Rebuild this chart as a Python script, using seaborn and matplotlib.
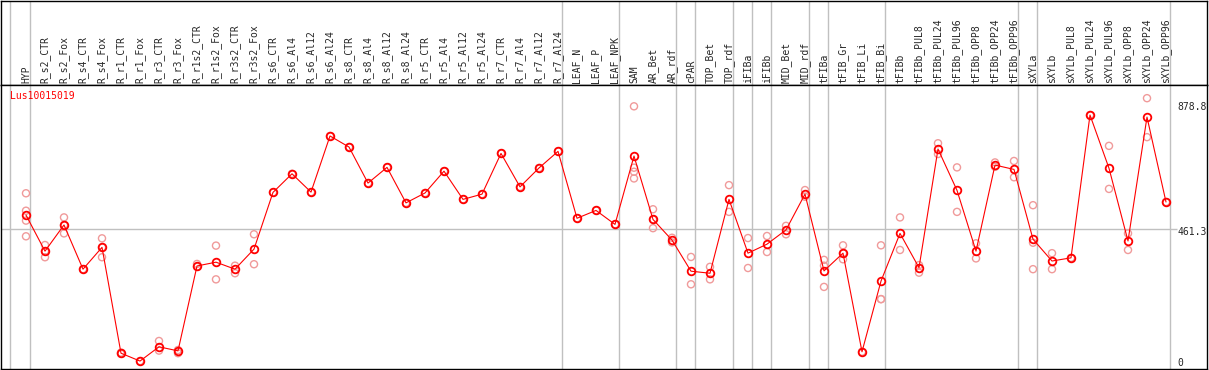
import pandas as pd
import matplotlib.pyplot as plt
import seaborn as sns

# ---------------------------------------------------------
# data
# ---------------------------------------------------------
samples = [
    "HYP", "R_s2_CTR", "R_s2_Fox", "R_s4_CTR", "R_s4_Fox", "R_r1_CTR", "R_r1_Fox",
    "R_r3_CTR", "R_r3_Fox", "R_r1s2_CTR", "R_r1s2_Fox", "R_r3s2_CTR", "R_r3s2_Fox",
    "R_s6_CTR", "R_s6_Al4", "R_s6_Al12", "R_s6_Al24", "R_s8_CTR", "R_s8_Al4",
    "R_s8_Al12", "R_s8_Al24", "R_r5_CTR", "R_r5_Al4", "R_r5_Al12", "R_r5_Al24",
    "R_r7_CTR", "R_r7_Al4", "R_r7_Al12", "R_r7_Al24", "LEAF_N", "LEAF_P", "LEAF_NPK",
    "SAM", "AR_Bet", "AR_rdf", "cPAR", "TOP_Bet", "TOP_rdf", "iFIBa", "iFIBb",
    "MID_Bet", "MID_rdf", "tFIBa", "tFIB_Gr", "tFIB_Li", "tFIB_Bi", "tFIBb",
    "tFIBb_PUL8", "tFIBb_PUL24", "tFIBb_PUL96", "tFIBb_OPP8", "tFIBb_OPP24",
    "tFIBb_OPP96", "sXYLa", "sXYLb", "sXYLb_PUL8", "sXYLb_PUL24", "sXYLb_PUL96",
    "sXYLb_OPP8", "sXYLb_OPP24", "sXYLb_OPP96",
]

means = [
    508, 384, 474, 322, 397, 33, 6, 55, 41, 333, 346, 322, 391,
    586, 650, 587, 780, 742, 618, 672, 550, 584, 659, 562, 580,
    720, 605, 670, 727, 497, 524, 476,
    711, 493, 422, 315, 308, 562, 377, 408, 457, 580,
    316, 377, 38, 281, 445,
    327, 735, 593, 384, 680, 665,
    425, 350, 361, 852, 669, 419, 845, 553,
]

replicates = [
    [583, 523, 489, 435], [405, 384, 363], [500, 474, 445], [322], [428, 397, 363],
    [35, 31], [6], [75, 42], [44, 33], [340, 330], [403, 287], [334, 308], [442, 339],
    [586], [650], [587], [780], [742], [618], [672], [550], [584], [659], [562], [580],
    [720], [605], [670], [727], [497], [524], [476],
    [882, 671, 657, 634], [528, 493, 463], [430, 414], [364, 270], [330, 287],
    [611, 519], [429, 326], [436, 381], [471, 442], [594, 571],
    [354, 334, 261], [404, 377, 356], [38], [404, 219, 219], [500, 388],
    [336, 310], [755, 718], [672, 519], [411, 359], [689, 674], [694, 638],
    [542, 413, 322], [377, 322], [361], [852], [746, 598], [445, 388], [910, 776], [553],
]

# number of samples in each tissue block (grey separators between them)
group_sizes = [1, 28, 3, 3, 1, 2, 1, 1, 2, 1, 3, 7, 1, 7]

y_labels = [878.8, 461.3, 0]
gene = "Lus10015019"

# ---------------------------------------------------------
# tables
# ---------------------------------------------------------
df_mean = pd.DataFrame({"pos": range(len(samples)), "muestra": samples, "valor": means})
df_rep = pd.DataFrame(
    [(i, v) for i, r in enumerate(replicates) for v in r], columns=["pos", "valor"]
)

sns.set_style("white")
plt.rcParams["font.family"] = ["DejaVu Sans Mono"]
plt.rcParams["font.size"] = 7

W, H = 1209, 370
fig = plt.figure(figsize=(W / 100, H / 100), dpi=100)
ax_head = fig.add_axes([1 / W, (H - 85) / H, 1206 / W, 84 / H])
ax = fig.add_axes([1 / W, 1 / H, 1206 / W, 284 / H])

xlim = (-25 / 19, 1181 / 19)
grey = "#c0c0c0"

# separators
seps = [-0.84]
acc = 0
for g in group_sizes:
    acc += g
    seps.append(acc - 1 + 0.23)
for a in (ax, ax_head):
    for s in seps:
        a.axvline(s, color=grey, lw=1, zorder=0)
    a.set_xlim(xlim)
    for sp in a.spines.values():
        sp.set_color("black")
        sp.set_linewidth(1.0)

ax_head.set_ylim(0, 1)
ax_head.set_xticks([])
ax_head.set_yticks([])

# horizontal reference line
ax.hlines(461.3, xlim[0], 1151 / 19, color=grey, lw=1, zorder=0)

# replicates
sns.scatterplot(data=df_rep, x="pos", y="valor", ax=ax, marker="o", s=26,
                color="#f09a9a", linewidth=1, zorder=2)
ax.collections[-1].set_facecolor("none")
ax.collections[-1].set_edgecolor("#f09a9a")

# mean line
sns.lineplot(data=df_mean, x="pos", y="valor", ax=ax, estimator=None, color="red",
             lw=0.8, marker="o", markersize=5.5, markerfacecolor="none",
             markeredgecolor="red", markeredgewidth=1.3, zorder=3)

ax.set_xlim(xlim)
ax.set_ylim(-21.3, 955.3)
ax.set_xlabel("")
ax.set_ylabel("")
ax.xaxis.tick_top()
ax.set_xticks(df_mean["pos"])
ax.set_xticklabels(samples, rotation=90, fontsize=7)
ax.tick_params(axis="x", length=0, pad=1.5)
ax.set_yticks([])

# right hand value labels
trans = ax.get_yaxis_transform()
for v in y_labels:
    ax.text(0.9756, v - (12 if v == 461.3 else 0), f"{v:g}" if v == 0 else f"{v:.1f}",
            transform=trans, ha="left", va="center", fontsize=7, clip_on=True)

ax.text(0.0075, 0.962, gene, transform=ax.transAxes, color="red", fontsize=7,
        ha="left", va="center")

plt.savefig("out.png", dpi=100)
